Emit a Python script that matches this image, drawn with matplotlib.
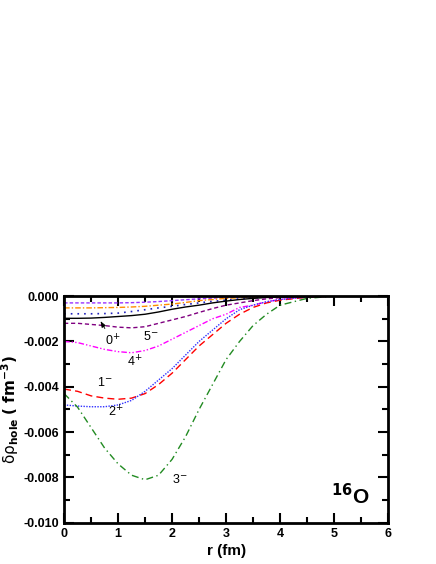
import matplotlib
matplotlib.use("Agg")
import matplotlib.pyplot as plt
import numpy as np

# radial grid (fm)
r = [0.0, 0.25, 0.5, 0.75, 1.0, 1.25, 1.5, 1.75, 2.0, 2.25, 2.5, 2.75,
     3.0, 3.25, 3.5, 3.75, 4.0, 4.5, 5.0]

# hole density changes, one per multipole
rho_3m = [-0.0043, -0.0049, -0.0058, -0.0067, -0.0074, -0.0079, -0.0081, -0.0079,
          -0.0072, -0.0062, -0.0050, -0.0039, -0.0028, -0.0020, -0.0013, -0.0008,
          -0.0004, -0.0001, 0.0]
rho_1m = [-0.0041, -0.0042, -0.0044, -0.0045, -0.00455, -0.0045, -0.0043, -0.0039,
          -0.0034, -0.0028, -0.0022, -0.0017, -0.0012, -0.0008, -0.0005, -0.0003,
          -0.00018, -0.00005, 0.0]
rho_2p = [-0.0048, -0.00485, -0.00488, -0.00488, -0.0048, -0.0046, -0.0042, -0.0037,
          -0.0032, -0.0026, -0.0020, -0.0015, -0.0010, -0.0006, -0.0004, -0.00025,
          -0.00015, -0.00004, 0.0]
rho_4p = [-0.0020, -0.00205, -0.0022, -0.00235, -0.00245, -0.0025, -0.0024, -0.0022,
          -0.0019, -0.0016, -0.0013, -0.0010, -0.0008, -0.0005, -0.0004, -0.00025,
          -0.00015, -0.00004, 0.0]
rho_5m = [-0.0012, -0.0012, -0.00125, -0.0013, -0.00137, -0.0014, -0.00135, -0.0012,
          -0.00105, -0.0009, -0.00072, -0.00055, -0.0004, -0.0003, -0.0002, -0.00012,
          -0.00007, -0.00002, 0.0]
rho_0p = [-0.00098, -0.00098, -0.00097, -0.00094, -0.0009, -0.00086, -0.0008, -0.0007,
          -0.00058, -0.00048, -0.0004, -0.0003, -0.00022, -0.00015, -0.0001, -0.00006,
          -0.00004, -0.00001, 0.0]
rho_bl = [-0.00078, -0.00078, -0.00078, -0.00077, -0.00075, -0.00068, -0.0006, -0.00052,
          -0.00045, -0.00037, -0.0003, -0.00023, -0.00018, -0.00012, -0.00008, -0.00005,
          -0.00003, -0.00001, 0.0]
rho_or = [-0.00052, -0.00052, -0.00052, -0.00051, -0.0005, -0.00048, -0.00045, -0.0004,
          -0.00035, -0.00028, -0.0002, -0.00015, -0.0001, -0.00007, -0.00005, -0.00003,
          -0.00002, -0.00001, 0.0]
rho_vi = [-0.0003, -0.0003, -0.0003, -0.0003, -0.0003, -0.00029, -0.00027, -0.00024,
          -0.0002, -0.00016, -0.00012, -0.00009, -0.00006, -0.00004, -0.00003, -0.00002,
          -0.00001, 0.0, 0.0]

plt.rcParams['font.family'] = ['Liberation Sans', 'DejaVu Sans']

fig = plt.figure(figsize=(4.36, 5.64), dpi=100)
ax = fig.add_axes([0.147, 0.073, 0.743, 0.402])

ax.plot(r, rho_vi, color='#9933ff', lw=1.0, ls=(0, (2.5, 1.5)))
ax.plot(r, rho_or, color='#ff8c00', lw=1.0, ls=(0, (4, 1.5, 1, 1.5)))
ax.plot(r, rho_bl, color='#2222bb', lw=1.2, ls=(0, (1, 3)))
ax.plot(r, rho_0p, color='black', lw=1.0, ls='-')
ax.plot(r, rho_5m, color='#800080', lw=1.0, ls=(0, (3, 2)))
ax.plot(r, rho_4p, color='#ff00ff', lw=1.0, ls=(0, (4, 1.5, 1, 1.5, 1, 1.5)))
ax.plot(r, rho_1m, color='#ff0000', lw=1.0, ls=(0, (5, 3)))
ax.plot(r, rho_2p, color='#3030ff', lw=1.0, ls=(0, (1, 1)))
ax.plot(r, rho_3m, color='#228b22', lw=1.0, ls=(0, (5, 2.5, 1, 2.5)))

ax.set_xlim(0, 6)
ax.set_ylim(-0.010, 0.0)
ax.set_xticks(np.arange(0, 7, 1))
ax.set_xticks(np.arange(0, 6.5, 0.5), minor=True)
ax.set_yticks(np.arange(-0.010, 0.0005, 0.002))
ax.set_yticks(np.arange(-0.010, 0.0005, 0.001), minor=True)
ax.set_yticklabels(['%.3f' % v if abs(v) > 1e-9 else '0.000'
                    for v in np.arange(-0.010, 0.0005, 0.002)])
ax.tick_params(which='both', direction='in', top=True, right=True, width=1.5)
ax.tick_params(which='major', length=7, labelsize=9)
ax.tick_params(which='minor', length=4)
for lab in ax.get_xticklabels() + ax.get_yticklabels():
    lab.set_fontweight('bold')
for sp in ax.spines.values():
    sp.set_linewidth(2)

ax.set_xlabel('r (fm)', fontsize=11, fontweight='bold', labelpad=3)
ax.set_ylabel(r'$\mathrm{\delta\rho}_{\mathbf{hole}}$ $\mathbf{(\ fm^{-3})}$', fontsize=11, labelpad=2)

# curve labels
ax.annotate(r'0$^{+}$', xy=(0.65, -0.0010), xytext=(0.75, -0.0020),
            fontsize=9, ha='left', va='center',
            arrowprops=dict(arrowstyle='-|>,head_length=0.4,head_width=0.15',
                            color='black', lw=0.6))
ax.text(1.6, -0.0018, r'5$^{-}$', fontsize=9, ha='center', va='center')
ax.text(1.3, -0.0029, r'4$^{+}$', fontsize=9, ha='center', va='center')
ax.text(0.75, -0.0038, r'1$^{-}$', fontsize=9, ha='center', va='center')
ax.text(0.95, -0.0051, r'2$^{+}$', fontsize=9, ha='center', va='center')
ax.text(2.15, -0.0081, r'3$^{-}$', fontsize=9, ha='center', va='center')
ax.text(5.3, -0.0088, r'$^{\mathbf{16}}$O', fontsize=15, fontweight='bold',
        ha='center', va='center')

fig.savefig('out.png', dpi=100)
